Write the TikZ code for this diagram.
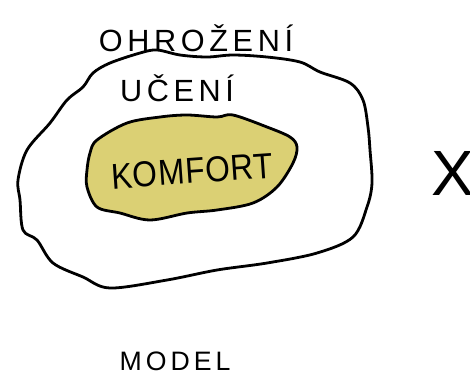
\documentclass[tikz,border=0pt]{standalone}
\usepackage{fontspec}
\setmainfont{Liberation Sans}
\newfontfamily\handfont[LetterSpace=15]{Liberation Sans}
\newfontfamily\handfontnarrow[LetterSpace=2]{Liberation Sans}
\definecolor{komfortfill}{RGB}{219,208,116}
\tikzset{
  blob/.style={draw=black, line width=2.1pt, line join=round},
  lettering/.style={font=\handfont, text=black, inner sep=0pt, anchor=center},
}
\begin{document}
\begin{tikzpicture}[x=0.75pt, y=-0.75pt]
\useasboundingbox (0,0) rectangle (470,376);
\clip (0,0) rectangle (470,376);
\fill[white] (0,0) rectangle (470,376);
% outer zone
\draw[blob, fill=white] plot[smooth cycle, tension=0.55] coordinates {
 (93,73) (110,63) (140,53) (157,50) (180,55) (207,57) (233,55) (267,57)
 (300,62) (320,72) (350,83) (363,100) (368,127) (370,150) (372,183)
 (367,207) (353,237) (317,253) (267,263) (217,270) (167,280) (110,288)
 (83,277) (53,263) (37,240) (23,230) (20,200) (18,180) (27,150) (50,123)
 (67,100) (83,87)};
% comfort zone
\draw[blob, fill=komfortfill] plot[smooth cycle, tension=0.55] coordinates {
 (97,140) (127,123) (160,117) (187,115) (217,117) (233,115) (267,127)
 (290,137) (297,147) (293,163) (277,187) (253,203) (217,210) (187,213)
 (150,220) (120,213) (97,207) (87,187) (87,170) (90,153)};
\node[lettering, font=\handfont\fontsize{23}{23}\selectfont] (ohrozeni) at (196,38) {OHROŽENÍ};
\node[lettering, font=\handfont\fontsize{23}{23}\selectfont] (uceni) at (177,88) {UČENÍ};
\node[lettering, font=\handfontnarrow\fontsize{27}{27}\selectfont, rotate=4, xscale=0.88] (komfort) at (192,171) {KOMFORT};
\node[lettering, font=\handfont\fontsize{20}{20}\selectfont] (model) at (175,361) {MODEL};
\node[lettering, font=\handfont\fontsize{48}{48}\selectfont, anchor=west] (x) at (431,173) {X};
\end{tikzpicture}
\end{document}
